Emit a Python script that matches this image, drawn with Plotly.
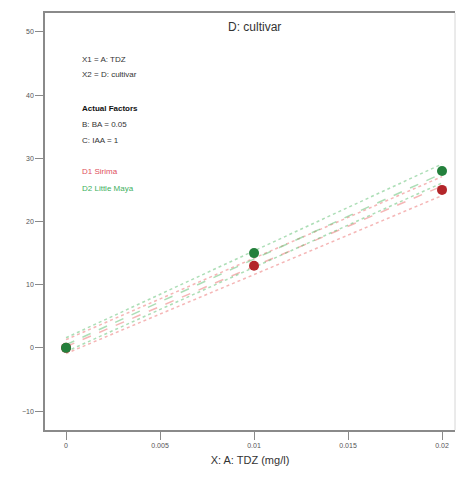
import plotly.graph_objects as go

# Data
x_design = [0, 0.01, 0.02]
d1_name = "D1 Sirima"
d2_name = "D2 Little Maya"
d1_actual = [0, 13, 25]
d2_actual = [0, 15, 28]

x_line = [0, 0.02]
d1_pred = [0.2, 25.6]
d1_low = [-0.9, 24.1]
d1_high = [1.3, 27.1]
d2_pred = [0.5, 27.6]
d2_low = [-0.6, 26.1]
d2_high = [1.6, 29.1]

x_ticks = [0, 0.005, 0.01, 0.015, 0.02]
x_tick_labels = ["0", "0.005", "0.01", "0.015", "0.02"]
y_ticks = [-10, 0, 10, 20, 30, 40, 50]

red_line = "rgba(235,110,110,0.5)"
green_line = "rgba(90,190,110,0.5)"
red_pt = "#b3262a"
green_pt = "#24803c"

fig = go.Figure()

for y, dash in [(d1_low, "dot"), (d1_high, "dot"), (d1_pred, "dash")]:
    fig.add_trace(go.Scatter(x=x_line, y=y, mode="lines",
                             line=dict(color=red_line, width=1.5, dash=dash),
                             showlegend=False, hoverinfo="skip"))
for y, dash in [(d2_low, "dot"), (d2_high, "dot"), (d2_pred, "dash")]:
    fig.add_trace(go.Scatter(x=x_line, y=y, mode="lines",
                             line=dict(color=green_line, width=1.5, dash=dash),
                             showlegend=False, hoverinfo="skip"))

fig.add_trace(go.Scatter(x=x_design, y=d1_actual, mode="markers", name=d1_name,
                         marker=dict(color=red_pt, size=10), showlegend=False,
                         cliponaxis=False))
fig.add_trace(go.Scatter(x=x_design, y=d2_actual, mode="markers", name=d2_name,
                         marker=dict(color=green_pt, size=10), showlegend=False,
                         cliponaxis=False))

font_fam = "Liberation Sans, Arial, sans-serif"
plot_left, plot_right, plot_top, plot_bottom = 45, 455, 13, 430
W, H = 457, 482

def px_x(x):
    return (x - plot_left) / (plot_right - plot_left)

def px_y(y):
    return (plot_bottom - y) / (plot_bottom - plot_top)

ann_lines = [
    ("X1 = A: TDZ", "#333333", 60),
    ("X2 = D: cultivar", "#333333", 75),
    ("<b>Actual Factors</b>", "#111111", 108),
    ("B: BA = 0.05", "#333333", 124),
    ("C: IAA = 1", "#333333", 140),
    (d1_name, "#e05060", 172),
    (d2_name, "#40b060", 188),
]
annotations = []
for text, color, ypx in ann_lines:
    annotations.append(dict(text=text, x=px_x(80), y=px_y(ypx), xref="paper", yref="paper",
                            showarrow=False, xanchor="left", yanchor="middle",
                            font=dict(size=8, color=color, family=font_fam)))

annotations.append(dict(text="D: cultivar", x=px_x(254), y=px_y(27),
                        xref="paper", yref="paper", showarrow=False,
                        xanchor="center", yanchor="middle",
                        font=dict(size=12, color="#333333", family=font_fam)))

fig.add_shape(type="line", xref="paper", yref="paper", x0=1, x1=1, y0=0, y1=1,
              line=dict(color="#d6d6d6", width=1))

fig.update_layout(
    width=W, height=H,
    margin=dict(l=plot_left, r=W - plot_right, t=plot_top, b=H - plot_bottom,
                autoexpand=False),
    plot_bgcolor="white", paper_bgcolor="white",
    font=dict(family=font_fam, color="#444444"),
    annotations=annotations,
    showlegend=False,
    xaxis=dict(range=[-0.00112, 0.02069], tickvals=x_ticks, ticktext=x_tick_labels,
               showgrid=False, zeroline=False, showline=True, linecolor="#8a8a8a",
               linewidth=1.5, mirror=True, ticks="outside", ticklen=8, tickcolor="#8a8a8a",
               tickfont=dict(size=7, color="#555555"), automargin=False,
               title=dict(text="X: A: TDZ (mg/l)", font=dict(size=11, color="#333333"), standoff=8)),
    yaxis=dict(range=[-13, 53], tickvals=y_ticks,
               showgrid=False, zeroline=False, showline=True, linecolor="#8a8a8a",
               linewidth=1.5, ticks="outside", ticklen=8, tickcolor="#8a8a8a",
               tickfont=dict(size=7, color="#555555"), automargin=False),
)

fig.write_html("out.html", config={"displayModeBar": False},
               post_script="document.body.style.margin='0';document.body.style.overflow='hidden';")
